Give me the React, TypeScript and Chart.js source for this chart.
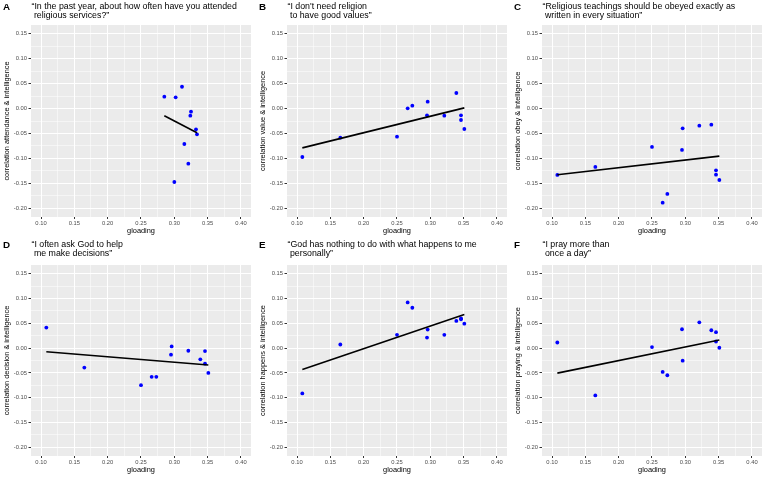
import React, { useEffect, useRef } from "react";
import { Chart, registerables } from "chart.js";

Chart.register(...registerables);

// g-loading of the twelve items shared by panels B–F
const GLOADING = [0.108, 0.165, 0.25, 0.266, 0.273, 0.295, 0.296, 0.321, 0.339, 0.346, 0.346, 0.351];

// Panel A uses its own set of g-loadings
const ATTENDANCE_GLOADING = [0.285, 0.302, 0.3115, 0.325, 0.324, 0.3325, 0.334, 0.315, 0.321, 0.3];
const ATTENDANCE_R = [0.0237, 0.0225, 0.0437, -0.0064, -0.0144, -0.0416, -0.0517, -0.0711, -0.1105, -0.1473];

const VALUE_R = [-0.0972, -0.0584, -0.0564, 0.0004, 0.0057, -0.0137, 0.0137, -0.0143, 0.0311, -0.0137, -0.023, -0.041];
const OBEY_R = [-0.1332, -0.117, -0.077, -0.1887, -0.1713, -0.0831, -0.0397, -0.0344, -0.0324, -0.1239, -0.1326, -0.1433];
const DECISION_R = [0.0413, -0.0393, -0.0747, -0.058, -0.058, -0.0133, 0.0033, -0.0053, -0.0227, -0.006, -0.0313, -0.05];
const HAPPENS_R = [-0.0913, 0.0073, 0.0267, 0.092, 0.0813, 0.0213, 0.0373, 0.0267, 0.0547, 0.06, 0.058, 0.0493];
const PRAYING_R = [0.0113, -0.0953, 0.002, -0.048, -0.0547, 0.038, -0.0253, 0.052, 0.036, 0.032, 0.0133, 0.0007];

// Axis breaks
const X_TICKS = [0.1, 0.15, 0.2, 0.25, 0.3, 0.35, 0.4];
const Y_TICKS = [-0.2, -0.15, -0.1, -0.05, 0.0, 0.05, 0.1, 0.15];

const FONT = "'Liberation Sans', Arial, Helvetica, sans-serif";

type PanelSpec = {
  letter: string;
  title: string[];
  yLabel: string;
  xs: number[];
  ys: number[];
  col: number;
  row: number;
};

const PANELS: PanelSpec[] = [
  {
    letter: "A",
    title: ["\u201CIn the past year, about how often have you attended", " religious services?\u201D"],
    yLabel: "correlation attendance & intelligence",
    xs: ATTENDANCE_GLOADING,
    ys: ATTENDANCE_R,
    col: 0,
    row: 0,
  },
  {
    letter: "B",
    title: ["\u201CI don't need religion", " to have good values\u201D"],
    yLabel: "correlation value & intelligence",
    xs: GLOADING,
    ys: VALUE_R,
    col: 1,
    row: 0,
  },
  {
    letter: "C",
    title: ["\u201CReligious teachings should be obeyed exactly as", " written in every situation\u201D"],
    yLabel: "correlation obey & intelligence",
    xs: GLOADING,
    ys: OBEY_R,
    col: 2,
    row: 0,
  },
  {
    letter: "D",
    title: ["\u201CI often ask God to help", " me make decisions\u201D"],
    yLabel: "correlation decision & intelligence",
    xs: GLOADING,
    ys: DECISION_R,
    col: 0,
    row: 1,
  },
  {
    letter: "E",
    title: ["\u201CGod has nothing to do with what happens to me", " personally\u201D"],
    yLabel: "correlation happens & intelligence",
    xs: GLOADING,
    ys: HAPPENS_R,
    col: 1,
    row: 1,
  },
  {
    letter: "F",
    title: ["\u201CI pray more than", " once a day\u201D"],
    yLabel: "correlation praying & intelligence",
    xs: GLOADING,
    ys: PRAYING_R,
    col: 2,
    row: 1,
  },
];

// Grid geometry
const COL_LEFT = [0, 256, 511];
const ROW_TOP = [0, 239];
const ROW_PAD_TOP = [25, 26];
const ROW_TITLE_TOP = [1.5, 0.5];
const PANEL_W = 256;
const PANEL_H = 240;

// Ordinary least squares fit, drawn across the range of x
function lmLine(xs: number[], ys: number[]) {
  const n = xs.length;
  const mx = xs.reduce((a, b) => a + b, 0) / n;
  const my = ys.reduce((a, b) => a + b, 0) / n;
  let sxy = 0;
  let sxx = 0;
  for (let i = 0; i < n; i++) {
    sxy += (xs[i] - mx) * (ys[i] - my);
    sxx += (xs[i] - mx) * (xs[i] - mx);
  }
  const slope = sxy / sxx;
  const x0 = Math.min(...xs);
  const x1 = Math.max(...xs);
  return [
    { x: x0, y: my + slope * (x0 - mx) },
    { x: x1, y: my + slope * (x1 - mx) },
  ];
}

// Major breaks plus the midpoints between them (minor grid)
function withMinor(major: number[]) {
  const out: number[] = [...major];
  for (let i = 0; i < major.length - 1; i++) out.push((major[i] + major[i + 1]) / 2);
  return out.sort((a, b) => a - b);
}

function expanded(major: number[]) {
  const lo = major[0];
  const hi = major[major.length - 1];
  const pad = (hi - lo) * 0.05;
  return { min: lo - pad, max: hi + pad };
}

const isMajor = (major: number[], v: number) => major.some((m) => Math.abs(m - v) < 1e-9);

const panelBackground = {
  id: "panelBackground",
  beforeDraw(chart: any) {
    const { ctx, chartArea } = chart;
    if (!chartArea) return;
    ctx.save();
    ctx.fillStyle = "#EBEBEB";
    ctx.fillRect(chartArea.left, chartArea.top, chartArea.right - chartArea.left, chartArea.bottom - chartArea.top);
    ctx.restore();
  },
};

function axisOptions(major: number[], axis: "x" | "y", label: string) {
  const all = withMinor(major);
  const { min, max } = expanded(major);
  return {
    type: "linear" as const,
    min,
    max,
    afterBuildTicks(scale: any) {
      scale.ticks = all.map((value) => ({ value }));
    },
    afterFit(scale: any) {
      if (axis === "y") scale.width = 31;
      else scale.height = 23;
    },
    border: { display: false },
    grid: {
      color: "#FFFFFF",
      lineWidth: (c: any) => (c.tick && isMajor(major, c.tick.value) ? 1 : 0.5),
      tickColor: (c: any) => (c.tick && isMajor(major, c.tick.value) ? "#333333" : "rgba(0,0,0,0)"),
      tickLength: axis === "y" ? 2.5 : 2,
      tickWidth: 1,
    },
    ticks: {
      autoSkip: false,
      maxRotation: 0,
      minRotation: 0,
      padding: axis === "y" ? 1.5 : 1,
      color: "#4D4D4D",
      font: { family: FONT, size: 5.8 },
      callback: (v: any) => (isMajor(major, Number(v)) ? Number(v).toFixed(2) : ""),
    },
    title: {
      display: true,
      text: label,
      color: "#000000",
      font: { family: FONT, size: 7.4 },
      padding: axis === "y" ? { top: 2.5, bottom: 0 } : { top: 0, bottom: 4.6 },
    },
  };
}

function Panel({ spec }: { spec: PanelSpec }) {
  const ref = useRef<HTMLCanvasElement>(null);

  useEffect(() => {
    if (!ref.current) return;
    const points = spec.xs.map((x, i) => ({ x, y: spec.ys[i] }));
    const chart = new Chart(ref.current, {
      type: "scatter",
      data: {
        datasets: [
          {
            label: "fit",
            data: lmLine(spec.xs, spec.ys),
            showLine: true,
            borderColor: "#000000",
            borderWidth: 1.6,
            pointRadius: 0,
            order: 0,
          },
          {
            label: "items",
            data: points,
            backgroundColor: "#0000FF",
            borderWidth: 0,
            pointRadius: 1.9,
            order: 1,
          },
        ],
      },
      options: {
        animation: false,
        responsive: false,
        devicePixelRatio: 1,
        events: [],
        layout: { padding: { top: ROW_PAD_TOP[spec.row], right: 5, left: 0, bottom: 0 } },
        plugins: {
          legend: { display: false },
          tooltip: { enabled: false },
          title: { display: false },
        },
        scales: {
          x: axisOptions(X_TICKS, "x", "gloading"),
          y: axisOptions(Y_TICKS, "y", spec.yLabel),
        },
      },
      plugins: [panelBackground],
    } as any);
    return () => chart.destroy();
  }, [spec]);

  const titleTop = ROW_TITLE_TOP[spec.row];
  return (
    <div
      style={{
        position: "absolute",
        left: COL_LEFT[spec.col],
        top: ROW_TOP[spec.row],
        width: PANEL_W,
        height: PANEL_H,
      }}
    >
      <canvas ref={ref} width={PANEL_W} height={PANEL_H} style={{ position: "absolute", left: 0, top: 0 }} />
      <div
        style={{
          position: "absolute",
          left: 3,
          top: titleTop,
          fontFamily: FONT,
          fontWeight: "bold",
          fontSize: 9.8,
          lineHeight: "9px",
          color: "#000",
        }}
      >
        {spec.letter}
      </div>
      <div
        style={{
          position: "absolute",
          left: 31.5,
          top: titleTop,
          fontFamily: FONT,
          fontSize: 8.8,
          lineHeight: "9px",
          color: "#000",
          whiteSpace: "pre",
        }}
      >
        {spec.title.join("\n")}
      </div>
    </div>
  );
}

export default function App() {
  return (
    <div
      style={{
        position: "fixed",
        left: 0,
        top: 0,
        width: 767,
        height: 478,
        background: "#FFFFFF",
        overflow: "hidden",
      }}
    >
      {PANELS.map((p) => (
        <Panel key={p.letter} spec={p} />
      ))}
    </div>
  );
}
